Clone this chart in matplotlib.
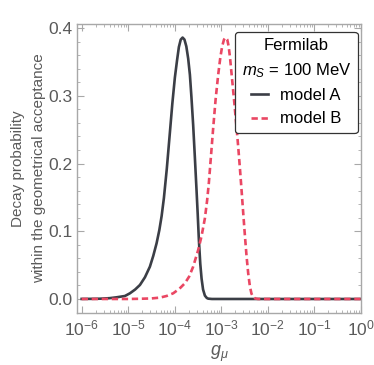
import matplotlib
matplotlib.use("Agg")
import matplotlib.pyplot as plt
import numpy as np
from matplotlib.ticker import FixedLocator, MultipleLocator, NullFormatter, LogFormatterMathtext

plt.rcParams['font.family'] = ['Liberation Sans', 'DejaVu Sans']
plt.rcParams['mathtext.fontset'] = 'custom'
plt.rcParams['mathtext.rm'] = 'Liberation Sans'
plt.rcParams['mathtext.it'] = 'Liberation Sans:italic'

# x-axis decades shown as tick labels
decades = [-6, -5, -4, -3, -2, -1, 0]

# Model A: log10(g_mu) and decay probability
logg_A = [-6.0, -5.8, -5.607, -5.4, -5.248, -5.07, -4.962, -4.85, -4.747, -4.64, -4.533,
          -4.46, -4.389, -4.33, -4.281, -4.232, -4.17, -4.103, -4.05, -3.996, -3.95,
          -3.91, -3.87, -3.83, -3.79, -3.75, -3.71, -3.673, -3.64, -3.603, -3.567,
          -3.53, -3.505, -3.48, -3.45, -3.422, -3.39, -3.351, -3.31, -3.28, -3.2, 0.0]
prob_A = [0.0001, 0.0002, 0.0004, 0.0012, 0.0025, 0.0044, 0.0084, 0.014, 0.0207, 0.032, 0.0477,
          0.0638, 0.0823, 0.1018, 0.1224, 0.149, 0.192, 0.246, 0.289, 0.327, 0.352,
          0.372, 0.383, 0.386, 0.383, 0.373, 0.355, 0.331, 0.298, 0.257, 0.210,
          0.160, 0.125, 0.087, 0.052, 0.030, 0.014, 0.005, 0.0015, 0.0005, 0.0, 0.0]

# Model B
logg_B = [-6.0, -5.0, -4.748, -4.5, -4.318, -4.17, -4.032, -3.9, -3.781, -3.69, -3.603,
          -3.495, -3.422, -3.351, -3.302, -3.265, -3.22, -3.173, -3.12, -3.065, -3.02,
          -2.98, -2.94, -2.907, -2.87, -2.84, -2.81, -2.778, -2.72, -2.670, -2.635,
          -2.599, -2.565, -2.528, -2.49, -2.455, -2.42, -2.384, -2.35, -2.314, -2.27, -2.21, 0.0]
prob_B = [0.0, 0.0, 0.0003, 0.0008, 0.002, 0.0045, 0.0084, 0.015, 0.0232, 0.033, 0.0477,
          0.0723, 0.093, 0.119, 0.146, 0.172, 0.211, 0.252, 0.295, 0.331, 0.356,
          0.373, 0.383, 0.386, 0.383, 0.373, 0.356, 0.333, 0.291, 0.253, 0.225,
          0.194, 0.163, 0.128, 0.093, 0.063, 0.038, 0.019, 0.008, 0.003, 0.0008, 0.0, 0.0]

gray = '#a8a8a8'
txt = '#5a5a5a'

fig = plt.figure(figsize=(3.74, 3.65), dpi=100)
ax = fig.add_axes([77/374, 1 - 313/365, (361 - 77)/374, (313 - 24)/365])

ax.plot(10**np.array(logg_A), prob_A, color='#3b3e46', lw=1.9, label='model A')
ax.plot(10**np.array(logg_B), prob_B, color='#ea4763', lw=1.9, ls=(0, (2.4, 1.4)), label='model B')

ax.set_xscale('log')
ax.set_xlim(10**-6.1, 10**0.005)
ax.set_ylim(-0.0207, 0.406)

major = 10.0 ** np.array(decades)
minor = np.concatenate([major[:-1][:, None] * np.arange(2, 10)[None, :]]).ravel()
ax.xaxis.set_major_locator(FixedLocator(major))
ax.xaxis.set_minor_locator(FixedLocator(minor))
ax.xaxis.set_major_formatter(LogFormatterMathtext())
ax.xaxis.set_minor_formatter(NullFormatter())
ax.yaxis.set_major_locator(MultipleLocator(0.1))
ax.yaxis.set_minor_locator(MultipleLocator(0.02))
ax.yaxis.set_major_formatter(matplotlib.ticker.FormatStrFormatter('%.1f'))

for s in ax.spines.values():
    s.set_color(gray)
    s.set_linewidth(1.0)
ax.tick_params(which='both', direction='in', top=True, right=True, color=gray,
               labelcolor=txt, labelsize=12.5)
ax.tick_params(which='major', length=5, width=0.8)
ax.tick_params(which='minor', length=2.5, width=0.6)
ax.tick_params(axis='x', pad=4)
ax.tick_params(axis='y', pad=3)

ax.set_xlabel(r'$g_\mu$', color=txt, fontsize=13, labelpad=4)
ax.set_ylabel('Decay probability\nwithin the geometrical acceptance', color=txt,
              fontsize=11, labelpad=2, linespacing=1.65)

leg = ax.legend(title='Fermilab\n$m_S$ = 100 MeV', loc='upper right',
                bbox_to_anchor=(1.0, 0.985), fontsize=12, title_fontsize=12,
                frameon=True, fancybox=True, edgecolor='#333333', framealpha=1,
                handlelength=1.0, handletextpad=0.7, borderpad=0.4, labelspacing=0.5,
                borderaxespad=0.2)
leg.get_frame().set_linewidth(0.9)
leg.get_title().set_multialignment('center')
leg.get_title().set_linespacing(1.55)
leg._legend_box.sep = 6

fig.savefig('out.png', dpi=100)
